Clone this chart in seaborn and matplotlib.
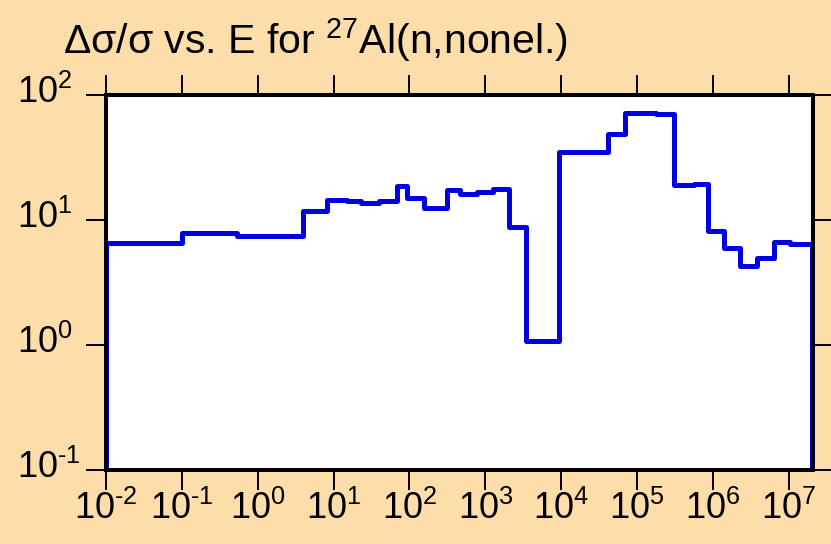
import numpy as np
import pandas as pd
import matplotlib
matplotlib.use('Agg')
import matplotlib.pyplot as plt
import matplotlib.ticker as mticker
import matplotlib.transforms as mtransforms
import seaborn as sns

# group boundaries (eV) and relative uncertainty (%) in each group
energy_edges = [1e-2, 0.1, 0.54, 4.0, 8.3, 15, 23, 40, 68, 93, 153, 312, 468, 776,
                1260, 2055, 3400, 9380, 4.14e4, 6.85e4, 1.8e5, 3.1e5, 5.6e5, 8.5e5,
                1.38e6, 2.3e6, 3.8e6, 6.3e6, 1.05e7, 2.0e7]
rel_unc = [6.6, 7.9, 7.5, 11.9, 14.4, 14.2, 13.7, 14.3, 18.9, 15.0,
           12.6, 17.3, 16.1, 16.8, 17.7, 8.8, 1.08, 35.3, 49.2, 71.6,
           71.0, 19.2, 19.4, 8.2, 5.95, 4.32, 5.0, 6.73, 6.44]
x_ticks = [1e-2, 1e-1, 1e0, 1e1, 1e2, 1e3, 1e4, 1e5, 1e6, 1e7]
y_ticks = [1e-1, 1e0, 1e1, 1e2]
title = r'Δσ/σ vs. E for $^{27}$Al(n,nonel.)'

sns.set_style('white')
plt.rcParams['font.family'] = ['Liberation Sans', 'DejaVu Sans']
plt.rcParams['mathtext.fontset'] = 'custom'
plt.rcParams['mathtext.rm'] = 'Liberation Sans'
plt.rcParams['mathtext.it'] = 'Liberation Sans'
plt.rcParams['text.color'] = 'black'
plt.rcParams['xtick.color'] = 'black'
plt.rcParams['ytick.color'] = 'black'

bg = '#fddeab'


def pow10(v, pos):
    e = int(round(np.log10(v)))
    if e < 0:
        return r'$\mathdefault{10^{\text{-}%d}}$' % (-e)
    return r'$\mathdefault{10^{%d}}$' % e


# histogram outline: start and end at the floor so the edges drop off the plot
floor = 1e-3
step_x = [energy_edges[0]] + list(energy_edges) + [energy_edges[-1]]
step_y = [floor] + list(rel_unc) + [rel_unc[-1], floor]
df = pd.DataFrame({'energy': step_x, 'unc': step_y})

fig = plt.figure(figsize=(8.31, 5.44), dpi=100, facecolor=bg)
ax = fig.add_axes([106 / 831, 1 - 469.7 / 544, 707 / 831, 374.4 / 544])
ax.set_facecolor('white')

sns.lineplot(data=df, x='energy', y='unc', estimator=None, sort=False,
             drawstyle='steps-post', color='#0000e0', linewidth=3.6, ax=ax)

ax.set_xscale('log')
ax.set_yscale('log')
ax.set_xlim(1e-2, 2.08e7)
ax.set_ylim(1e-1, 1e2)
ax.set_xticks(x_ticks)
ax.set_yticks(y_ticks)
ax.xaxis.set_minor_locator(mticker.NullLocator())
ax.yaxis.set_minor_locator(mticker.NullLocator())
ax.xaxis.set_major_formatter(mticker.FuncFormatter(pow10))
ax.yaxis.set_major_formatter(mticker.FuncFormatter(pow10))

ax.tick_params(which='major', direction='out', length=14.5, width=1.4, color='black',
               labelcolor='black', labelsize=26, top=True, right=True, bottom=True,
               left=True, labeltop=False, labelright=False)
ax.tick_params(axis='x', pad=0.5)
ax.tick_params(axis='y', pad=0)

# y labels are left-aligned near the figure edge, digits centred on the ticks
shift = mtransforms.ScaledTranslation(-69 / 100, 6 / 100, fig.dpi_scale_trans)
for lab in ax.get_yticklabels():
    lab.set_horizontalalignment('left')
    lab.set_transform(lab.get_transform() + shift)

for s in ax.spines.values():
    s.set_visible(True)
    s.set_linewidth(2.9)
    s.set_color('black')

ax.set_xlabel('')
ax.set_ylabel('')

fig.text(63 / 831, 1 - 54 / 544, title, fontsize=29.5, ha='left', va='baseline')

fig.savefig('out.png', dpi=100, facecolor=bg)
